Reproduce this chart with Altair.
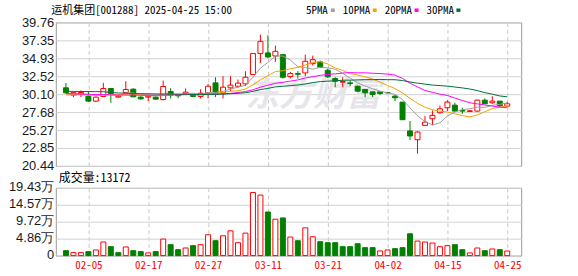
import json
import numpy as np
import pandas as pd
import altair as alt

# ---------------- data ----------------
dates = ["01-23", "01-24", "01-27", "02-05", "02-06", "02-07", "02-10", "02-11", "02-12", "02-13",
         "02-14", "02-17", "02-18", "02-19", "02-20", "02-21", "02-24", "02-25", "02-26", "02-27",
         "02-28", "03-03", "03-04", "03-05", "03-06", "03-07", "03-10", "03-11", "03-12", "03-13",
         "03-14", "03-17", "03-18", "03-19", "03-20", "03-21", "03-24", "03-25", "03-26", "03-27",
         "03-28", "03-31", "04-01", "04-02", "04-03", "04-07", "04-08", "04-09", "04-10", "04-11",
         "04-14", "04-15", "04-16", "04-17", "04-18", "04-21", "04-22", "04-23", "04-24", "04-25"]

opens = [30.95, 29.97, 30.10, 29.83, 29.16, 29.79, 30.86, 29.70, 30.32, 30.77,
         29.70, 29.70, 29.70, 29.38, 30.46, 30.06, 30.19, 30.06, 29.79, 30.28,
         31.62, 30.28, 30.95, 31.17, 31.49, 32.74, 35.56, 35.65, 35.24, 35.42,
         32.47, 32.87, 32.96, 34.21, 34.44, 33.32, 32.20, 31.71, 31.62, 31.17,
         30.73, 30.41, 30.41, 30.33, 29.83, 29.03, 25.14, 23.97, 25.89, 26.79,
         27.60, 28.27, 28.62, 27.91, 27.77, 27.82, 29.29, 28.94, 29.16, 28.49]
highs = [31.60, 30.37, 30.60, 30.50, 29.79, 31.62, 30.90, 29.97, 31.84, 30.90,
         29.83, 29.92, 29.79, 31.93, 30.90, 30.10, 30.86, 30.14, 30.77, 31.49,
         32.38, 32.52, 32.52, 32.07, 33.19, 35.62, 38.10, 38.02, 36.63, 35.45,
         33.10, 33.19, 35.42, 35.29, 34.62, 33.54, 32.38, 32.38, 31.98, 31.26,
         30.73, 30.41, 30.41, 30.41, 30.05, 29.03, 26.48, 25.14, 27.15, 27.91,
         28.58, 29.29, 28.94, 28.27, 27.95, 29.38, 29.52, 29.83, 29.16, 29.07]
lows = [30.20, 29.70, 29.70, 29.07, 29.03, 29.74, 28.94, 29.61, 30.23, 29.70,
        29.34, 29.16, 29.34, 29.25, 29.52, 29.56, 30.01, 29.70, 29.52, 29.52,
        29.70, 29.52, 30.50, 30.95, 31.17, 32.70, 34.30, 34.97, 34.44, 32.20,
        32.20, 32.20, 32.52, 33.95, 33.63, 32.29, 31.04, 31.04, 31.17, 30.41,
        29.70, 29.70, 29.97, 30.19, 29.16, 26.66, 23.93, 22.09, 25.89, 25.94,
        27.46, 27.82, 27.73, 27.46, 27.69, 27.73, 28.80, 28.80, 28.36, 28.49]
closes = [30.28, 30.30, 30.32, 29.16, 29.70, 30.86, 30.14, 29.83, 30.73, 29.74,
          29.47, 29.83, 29.43, 31.13, 29.97, 29.88, 30.37, 29.79, 30.23, 31.17,
          30.14, 31.04, 31.31, 31.58, 32.38, 35.56, 37.21, 35.11, 35.87, 32.38,
          32.87, 32.78, 34.53, 34.75, 33.72, 32.43, 31.84, 31.80, 31.53, 30.50,
          30.28, 30.05, 30.19, 30.28, 29.61, 26.66, 24.47, 25.00, 26.34, 27.24,
          28.13, 29.03, 27.82, 27.82, 27.86, 29.29, 28.80, 29.16, 28.53, 28.80]
volumes = [14200, 8500, 8500, 11400, 16200, 39000, 25600, 8500, 24700, 14200,
           11400, 7700, 11400, 47400, 31300, 17000, 21800, 28500, 31300, 59700,
           42700, 56900, 71000, 37000, 64500, 181000, 173500, 125000, 104400, 108000,
           53100, 42700, 79700, 54000, 39800, 37000, 37000, 25600, 25600, 34100,
           22800, 22800, 13300, 16200, 19900, 22800, 62600, 41700, 39000, 36000,
           25600, 28500, 31300, 17000, 7700, 21800, 14200, 19000, 17000, 13172]
vol_up = [0, 1, 1, 0, 1, 1, 0, 0, 1, 0,
          0, 1, 0, 1, 0, 0, 1, 0, 1, 1,
          0, 1, 1, 1, 1, 1, 1, 0, 1, 0,
          1, 0, 1, 1, 0, 0, 0, 0, 0, 0,
          0, 0, 1, 1, 0, 0, 0, 1, 1, 1,
          1, 1, 0, 0, 1, 1, 0, 1, 0, 1]

ma5 = [30.15, 30.12, 30.10, 29.98, 29.95, 30.07, 30.04, 29.94, 30.25, 30.26,
       29.98, 29.92, 29.84, 29.92, 29.97, 30.05, 30.16, 30.23, 30.05, 30.29,
       30.34, 30.47, 30.78, 31.05, 31.29, 32.37, 33.61, 34.37, 35.23, 35.23,
       34.69, 33.80, 33.69, 33.46, 33.73, 33.64, 33.45, 32.91, 32.26, 31.62,
       31.19, 30.83, 30.51, 30.26, 30.08, 29.36, 28.24, 27.20, 26.42, 25.94,
       26.24, 27.15, 27.71, 28.01, 28.13, 28.36, 28.32, 28.59, 28.73, 28.92]
ma10 = [29.98, 29.99, 30.00, 29.98, 29.97, 30.00, 30.02, 30.03, 30.08, 30.11,
        30.03, 29.98, 29.89, 30.09, 30.11, 30.02, 30.04, 30.03, 29.98, 30.13,
        30.19, 30.32, 30.50, 30.55, 30.79, 31.36, 32.04, 32.57, 33.14, 33.26,
        33.53, 33.71, 34.03, 34.34, 34.48, 34.17, 33.63, 33.30, 32.86, 32.68,
        32.42, 32.14, 31.71, 31.26, 30.85, 30.27, 29.54, 28.86, 28.34, 28.01,
        27.80, 27.70, 27.46, 27.21, 27.04, 27.30, 27.73, 28.15, 28.37, 28.52]
ma20 = [30.18, 30.15, 30.12, 30.08, 30.05, 30.03, 30.00, 29.98, 29.97, 29.96,
        29.96, 29.97, 29.97, 29.99, 30.00, 30.02, 30.04, 30.06, 30.09, 30.12,
        30.11, 30.15, 30.20, 30.32, 30.45, 30.69, 31.04, 31.30, 31.56, 31.69,
        31.86, 32.01, 32.27, 32.45, 32.63, 32.76, 32.83, 32.94, 33.00, 32.97,
        32.97, 32.92, 32.87, 32.80, 32.66, 32.22, 31.58, 31.08, 30.60, 30.34,
        30.11, 29.92, 29.58, 29.24, 28.94, 28.79, 28.64, 28.50, 28.35, 28.27]
ma30 = [30.48, 30.47, 30.46, 30.45, 30.44, 30.43, 30.32, 30.26, 30.22, 30.20,
        30.17, 30.15, 30.13, 30.12, 30.11, 30.10, 30.08, 30.06, 30.04, 30.07,
        30.08, 30.11, 30.16, 30.21, 30.29, 30.47, 30.71, 30.88, 31.08, 31.16,
        31.25, 31.33, 31.47, 31.66, 31.79, 31.85, 31.90, 31.97, 31.99, 32.02,
        32.05, 32.05, 32.08, 32.05, 32.04, 31.93, 31.74, 31.58, 31.45, 31.32,
        31.25, 31.18, 31.06, 30.94, 30.79, 30.58, 30.30, 30.10, 29.86, 29.74]

ma_names = ["5PMA", "10PMA", "20PMA", "30PMA"]
ma_colors = ["#a0a0a0", "#f5a300", "#ff00ff", "#00703a"]

price_ticks = [20.44, 22.85, 25.27, 27.68, 30.10, 32.52, 34.93, 37.35, 39.76]
vol_ticks = [0, 48600, 97200, 145700, 194300]
label_dates = ["02-05", "02-17", "02-27", "03-11", "03-21", "04-02", "04-15", "04-25"]

title_text = "运机集团[001288] 2025-04-25 15:00"
vol_title = "成交量:" + str(volumes[-1])
watermark = "东方财富"

# ---------------- frames ----------------
RED = "#ff0000"
GREEN = "#008000"
MONO = "Noto Sans Mono CJK SC, Noto Sans CJK SC, sans-serif"
SANS = "Liberation Sans, Arial, sans-serif"

df = pd.DataFrame({"i": range(len(dates)), "date": dates, "open": opens, "high": highs,
                   "low": lows, "close": closes, "vol": volumes, "vup": vol_up})
df["dir"] = np.where(df["close"] >= df["open"], "up", "down")
df["body_lo"] = df[["open", "close"]].min(axis=1)
df["body_hi"] = df[["open", "close"]].max(axis=1)
df["vdir"] = np.where(df["vup"] == 1, "up", "down")

ma_df = pd.concat([pd.DataFrame({"i": range(len(dates)), "v": vals, "ma": name})
                   for name, vals in zip(ma_names, [ma5, ma10, ma20, ma30])], ignore_index=True)

label_idx = [dates.index(d) for d in label_dates]

W, H1, H2 = 467, 144, 68
xscale = alt.Scale(domain=[-0.69, 60.2], nice=False, zero=False)
stroke_scale = alt.Scale(domain=["up", "down"], range=[RED, GREEN])
fill_scale = alt.Scale(domain=["up", "down"], range=["#ffffff", GREEN])

grid_x_top = alt.Axis(values=label_idx, labels=False, ticks=False, domain=False, grid=True,
                      gridDash=[4, 3], gridColor="#c8c8c8", title=None)
x_top = alt.X("i:Q", scale=xscale, axis=grid_x_top)

price_scale = alt.Scale(domain=[price_ticks[0], price_ticks[-1]], nice=False, zero=False)
price_axis = alt.Axis(values=price_ticks, format=".2f", title=None, ticks=False, domain=False,
                      grid=True, gridColor="#d2d2d2", labelFont=SANS, labelFontSize=13,
                      labelColor="#1a1a1a", labelPadding=2, labelOverlap=False, labelFlush=False)

base = alt.Chart(df)

wm = alt.Chart(pd.DataFrame({"t": [watermark]})).mark_text(
    font="Noto Sans CJK SC", fontSize=34, fontWeight="bold", fontStyle="italic",
    color="#e6e6ea", align="center", baseline="middle"
).encode(x=alt.value(258), y=alt.value(74), text="t:N")

wick = base.mark_rule(strokeWidth=1).encode(
    x=x_top,
    y=alt.Y("low:Q", scale=price_scale, axis=price_axis),
    y2="high:Q",
    stroke=alt.Stroke("dir:N", scale=stroke_scale, legend=None),
)
body = base.mark_bar(size=5, strokeWidth=1, orient="vertical").encode(
    x=x_top,
    y=alt.Y("body_lo:Q", scale=price_scale, axis=price_axis),
    y2="body_hi:Q",
    fill=alt.Fill("dir:N", scale=fill_scale, legend=None),
    stroke=alt.Stroke("dir:N", scale=stroke_scale, legend=None),
)
lines = alt.Chart(ma_df).mark_line(strokeWidth=1).encode(
    x=x_top,
    y=alt.Y("v:Q", scale=price_scale, axis=price_axis),
    color=alt.Color("ma:N", scale=alt.Scale(domain=ma_names, range=ma_colors), legend=None),
    detail="ma:N",
)

one = pd.DataFrame({"t": [title_text]})
title_mark = alt.Chart(one).mark_text(font=MONO, fontSize=11, align="left", baseline="alphabetic",
                                      color="#000000").encode(
    x=alt.value(-4.5), y=alt.value(-8), text="t:N")

legend_layers = []
for k, (name, col) in enumerate(zip(ma_names, ma_colors)):
    lx = 251 + 42 * k if k == 0 else 288 + 42 * (k - 1)
    ldf = pd.DataFrame({"t": [name]})
    legend_layers.append(alt.Chart(ldf).mark_text(font=MONO, fontSize=11, align="left",
                                                  baseline="alphabetic", color="#000000").encode(
        x=alt.value(lx), y=alt.value(-8), text="t:N"))
    sq_x = 276 + 42 * k
    legend_layers.append(alt.Chart(ldf).mark_rect(color=col).encode(
        x=alt.value(sq_x), x2=alt.value(sq_x + 4), y=alt.value(-14), y2=alt.value(-10.5)))

anchor_tl = alt.Chart(one).mark_rule(strokeWidth=0, opacity=0).encode(
    x=alt.value(-55), x2=alt.value(-55), y=alt.value(-21), y2=alt.value(-21))

top = alt.layer(wm, wick, body, lines, title_mark, anchor_tl, *legend_layers).properties(
    width=W, height=H1)

# ---- volume panel ----
x_bot_axis = alt.Axis(values=label_idx, labelExpr=json.dumps(dates) + "[datum.value]",
                      labelColor=RED, labelFont=MONO, labelFontSize=11, ticks=False, domain=False,
                      grid=True, gridDash=[4, 3], gridColor="#c8c8c8", title=None,
                      labelPadding=4, labelFlush=False, labelOverlap=False)
x_bot = alt.X("i:Q", scale=xscale, axis=x_bot_axis)
vol_axis = alt.Axis(values=vol_ticks, title=None, ticks=False, domain=False, grid=True,
                    gridColor="#d2d2d2", labelFont=SANS, labelFontSize=13, labelColor="#1a1a1a",
                    labelPadding=2, labelOverlap=False, labelFlush=False, labelOffset=-1.5,
                    labelExpr="datum.value == 0 ? '0' : format(datum.value / 10000, '.2f') + '万'")

vbars = base.mark_bar(size=5, strokeWidth=1, orient="vertical").encode(
    x=x_bot,
    y=alt.Y("vol:Q", scale=alt.Scale(domain=[0, vol_ticks[-1]], nice=False), axis=vol_axis),
    fill=alt.Fill("vdir:N", scale=fill_scale, legend=None),
    stroke=alt.Stroke("vdir:N", scale=stroke_scale, legend=None),
)
vtitle = alt.Chart(pd.DataFrame({"t": [vol_title]})).mark_text(
    font=MONO, fontSize=12, align="left", baseline="middle", color="#000000"
).encode(x=alt.value(3), y=alt.value(-9.5), text="t:N")
anchor_br = alt.Chart(one).mark_rule(strokeWidth=0, opacity=0).encode(
    x=alt.value(523), x2=alt.value(523), y=alt.value(89), y2=alt.value(89))

bottom = alt.layer(vbars, vtitle, anchor_br).properties(width=W, height=H2)

chart = alt.vconcat(top, bottom, spacing=22, bounds="flush").properties(
    padding=0, background="#ffffff"
).configure_view(stroke="#9a9a9a", strokeWidth=1)

chart.save("out.html", embed_options={"renderer": "svg", "actions": False})
